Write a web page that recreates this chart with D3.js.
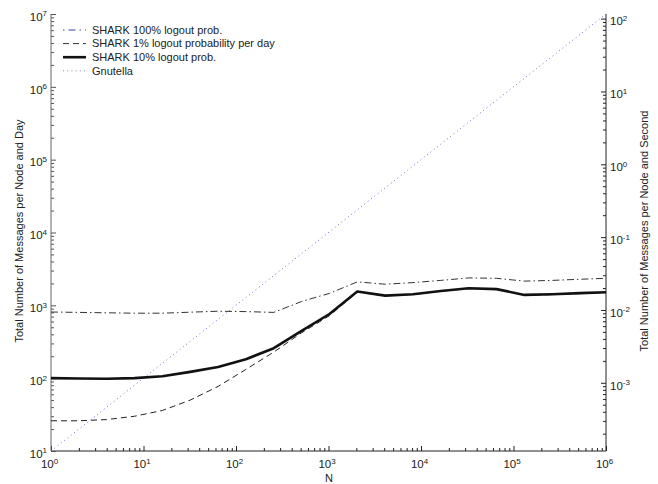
<!DOCTYPE html>
<html>
<head>
<meta charset="utf-8">
<script src="https://cdn.jsdelivr.net/npm/d3@7"></script>
<style>
  html, body { margin: 0; padding: 0; background: #fff; }
  svg { display: block; font-family: "Liberation Sans", Arial, Helvetica, sans-serif; }
</style>
</head>
<body>
<svg id="chart" width="658" height="484"></svg>
<script>
// Network size (number of nodes)
const nodes = [1, 2, 4, 8, 16, 32, 64, 128, 256, 512, 1024, 2048, 4096, 8192,
               16384, 32768, 65536, 131072, 262144, 524288, 1000000];

// Messages per node and day for each scenario
const shark100 = [810, 800, 790, 780, 780, 805, 830, 820, 800, 1130, 1460, 2100,
                  1950, 2050, 2200, 2380, 2350, 2150, 2200, 2280, 2350];
const shark1 = [26, 26, 27, 30, 36, 50, 77, 132, 228, 420, 720, 1520,
                1350, 1410, 1560, 1700, 1650, 1380, 1400, 1450, 1500];
const shark10 = [100, 99, 98, 100, 106, 122, 142, 182, 258, 445, 760, 1550,
                 1360, 1420, 1570, 1720, 1670, 1390, 1420, 1470, 1515];
const gnutella = [10, 20, 40, 80, 160, 320, 640, 1280, 2560, 5120, 10240, 20480,
                  40960, 81920, 163840, 327680, 655360, 1310720, 2621440, 5242880, 10000000];

const legendLabels = ["SHARK 100% logout prob.", "SHARK 1% logout probability per day",
                      "SHARK 10% logout prob.", "Gnutella"];

// Axis decades
const xDecades = [0, 1, 2, 3, 4, 5, 6];
const yDecades = [1, 2, 3, 4, 5, 6, 7];
const ySecDecades = [-3, -2, -1, 0, 1, 2];
const secondsPerDay = 86400;

const svg = d3.select("#chart");
const plotLeft = 51, plotRight = 606, plotTop = 14, plotBottom = 451;

const x = d3.scaleLog().domain([1, 1e6]).range([plotLeft, plotRight]);
const y = d3.scaleLog().domain([10, 1e7]).range([plotBottom, plotTop]);
const y2 = d3.scaleLog().domain([10 / secondsPerDay, 1e7 / secondsPerDay]).range([plotBottom, plotTop]);

function minorValues(domain) {
  const out = [];
  const lo = Math.floor(Math.log10(domain[0])), hi = Math.ceil(Math.log10(domain[1]));
  for (let k = lo; k <= hi; k++) {
    for (let m = 2; m <= 9; m++) {
      const v = m * Math.pow(10, k);
      if (v >= domain[0] && v <= domain[1]) out.push(v);
    }
  }
  return out;
}

function powerLabel(sel, exps) {
  sel.each(function(d, i) {
    const t = d3.select(this);
    const e = exps[i];
    t.text(null);
    t.append("tspan").text("10");
    t.append("tspan").attr("dy", "-0.55em").attr("font-size", "8px").text(e);
  });
}

// Bottom axis
const xMinor = d3.axisBottom(x).tickValues(minorValues(x.domain())).tickSize(-3).tickFormat("");
const xMajor = d3.axisBottom(x).tickValues(xDecades.map(e => Math.pow(10, e))).tickSize(-5).tickPadding(9).tickFormat("");
svg.append("g").attr("transform", `translate(0,${plotBottom})`).call(xMinor)
  .call(g => g.select(".domain").remove())
  .selectAll("line").attr("stroke", "#222");
const gx = svg.append("g").attr("transform", `translate(0,${plotBottom})`).call(xMajor);
gx.select(".domain").attr("stroke", "#222").attr("d", `M${plotLeft},0H${plotRight}`);
gx.selectAll("line").attr("stroke", "#222");
gx.selectAll("text").attr("font-size", "11.5px").attr("fill", "#222").attr("dx", "-2px")
  .call(powerLabel, xDecades);

// Left axis
const yMinor = d3.axisLeft(y).tickValues(minorValues(y.domain())).tickSize(-3).tickFormat("");
const yMajor = d3.axisLeft(y).tickValues(yDecades.map(e => Math.pow(10, e))).tickSize(-5).tickPadding(4).tickFormat("");
svg.append("g").attr("transform", `translate(${plotLeft},0)`).call(yMinor)
  .call(g => g.select(".domain").remove())
  .selectAll("line").attr("stroke", "#555");
const gy = svg.append("g").attr("transform", `translate(${plotLeft},0)`).call(yMajor);
gy.select(".domain").attr("stroke", "#666").attr("d", `M0,${plotTop}V${plotBottom}`);
gy.selectAll("line").attr("stroke", "#555");
gy.selectAll("text").attr("font-size", "11.5px").attr("fill", "#222").attr("dy", "0.55em")
  .call(powerLabel, yDecades);

// Right axis (per second)
const y2Minor = d3.axisRight(y2).tickValues(minorValues(y2.domain())).tickSize(-3).tickFormat("");
const y2Major = d3.axisRight(y2).tickValues(ySecDecades.map(e => Math.pow(10, e))).tickSize(-5).tickPadding(4).tickFormat("");
svg.append("g").attr("transform", `translate(${plotRight},0)`).call(y2Minor)
  .call(g => g.select(".domain").remove())
  .selectAll("line").attr("stroke", "#222");
const gy2 = svg.append("g").attr("transform", `translate(${plotRight},0)`).call(y2Major);
gy2.select(".domain").attr("stroke", "#222").attr("d", `M0,${plotTop}V${plotBottom}`);
gy2.selectAll("line").attr("stroke", "#222");
gy2.selectAll("text").attr("font-size", "11.5px").attr("fill", "#222").attr("dy", "0.55em")
  .call(powerLabel, ySecDecades);

// Axis titles
svg.append("text").attr("x", 329).attr("y", 482).attr("text-anchor", "middle")
  .attr("font-size", "11px").attr("fill", "#222").text("N");
svg.append("text").attr("transform", "translate(23,231) rotate(-90)").attr("text-anchor", "middle")
  .attr("font-size", "11px").attr("fill", "#222").text("Total Number of Messages per Node and Day");
svg.append("text").attr("transform", "translate(648,231) rotate(-90)").attr("text-anchor", "middle")
  .attr("font-size", "11px").attr("fill", "#222").text("Total Number of Messages per Node and Second");

// Series
const styles = [
  { values: shark100, stroke: "#333", width: 1, dash: "7,3,1.5,3", legendStroke: "#3a3fa8" },
  { values: shark1, stroke: "#222", width: 1, dash: "6,4", legendStroke: "#333" },
  { values: shark10, stroke: "#111", width: 2.6, dash: null, legendStroke: "#111" },
  { values: gnutella, stroke: "#6f6fdc", width: 1, dash: "1,3.2", legendStroke: "#8888aa" }
];

const line = d3.line().x(d => x(d[0])).y(d => y(d[1]));

const plot = svg.append("g");
// draw order: Gnutella first, then the SHARK curves
[3, 0, 1, 2].forEach(i => {
  const s = styles[i];
  plot.append("path")
    .datum(nodes.map((n, j) => [n, s.values[j]]))
    .attr("d", line)
    .attr("fill", "none")
    .attr("stroke", s.stroke)
    .attr("stroke-width", s.width)
    .attr("stroke-dasharray", s.dash)
    .attr("stroke-linejoin", "round");
});

// Legend
const legend = svg.append("g");
legendLabels.forEach((lab, i) => {
  const s = styles[i];
  const ly = 30 + i * 13.6;
  legend.append("line").attr("x1", 63).attr("x2", 86).attr("y1", ly).attr("y2", ly)
    .attr("stroke", s.legendStroke).attr("stroke-width", s.width)
    .attr("stroke-dasharray", i === 0 ? "1.5,4,7,4" : s.dash);
  legend.append("text").attr("x", 92).attr("y", ly).attr("dy", "0.35em")
    .attr("font-size", "11px").attr("fill", "#222").text(lab);
});
</script>
</body>
</html>
